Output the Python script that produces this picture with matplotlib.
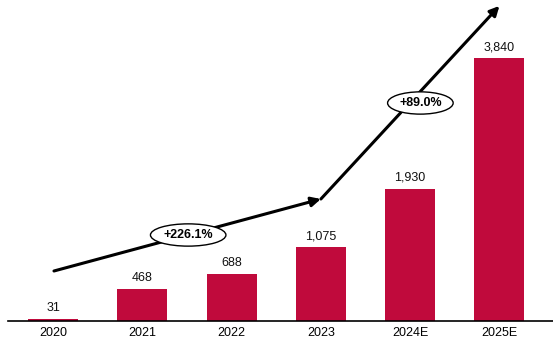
import matplotlib
matplotlib.use("Agg")
import matplotlib.pyplot as plt

categories = ["2020", "2021", "2022", "2023", "2024E", "2025E"]
values = [31, 468, 688, 1075, 1930, 3840]
value_labels = ["31", "468", "688", "1,075", "1,930", "3,840"]
growth_labels = ["+226.1%", "+89.0%"]

plt.rcParams['font.family'] = ['Liberation Sans', 'DejaVu Sans']

fig = plt.figure(figsize=(5.53, 3.51), dpi=100)
ax = fig.add_axes([8/553, 30/351, 545/553, 316/351])

x = list(range(len(categories)))
bars = ax.bar(x, values, width=0.56, color='#C00A3C', zorder=2)
for xi, v, lab in zip(x, values, value_labels):
    ax.text(xi, v + 70, lab, ha='center', va='bottom', fontsize=9, color='#111111')

ax.set_xlim(-0.505, 5.6)
ax.set_ylim(0, 4613)
ax.set_xticks(x)
ax.set_xticklabels(categories, fontsize=9)
ax.tick_params(axis='x', length=0, pad=4)
ax.set_yticks([])
for s in ['top', 'right', 'left']:
    ax.spines[s].set_visible(False)
ax.spines['bottom'].set_linewidth(1.2)

# arrows
ax.annotate('', xy=(3.0, 1781), xytext=(0.01, 730),
            arrowprops=dict(arrowstyle='-|>', color='black', lw=2.2, mutation_scale=14,
                            shrinkA=0, shrinkB=0), zorder=3)
ax.annotate('', xy=(5.0, 4600), xytext=(3.0, 1781),
            arrowprops=dict(arrowstyle='-|>', color='black', lw=2.2, mutation_scale=14,
                            shrinkA=0, shrinkB=0), zorder=3)

ax.text((188-53)/89.2, (321-235)/0.0685, growth_labels[0], ha='center', va='center',
        fontsize=9, fontweight='bold', zorder=4,
        bbox=dict(boxstyle='ellipse,pad=0.15', fc='white', ec='black', lw=1))
ax.text((420-53)/89.2, (321-103)/0.0685, growth_labels[1], ha='center', va='center',
        fontsize=9, fontweight='bold', zorder=4,
        bbox=dict(boxstyle='ellipse,pad=0.15', fc='white', ec='black', lw=1))

fig.savefig('out.png', dpi=100)
